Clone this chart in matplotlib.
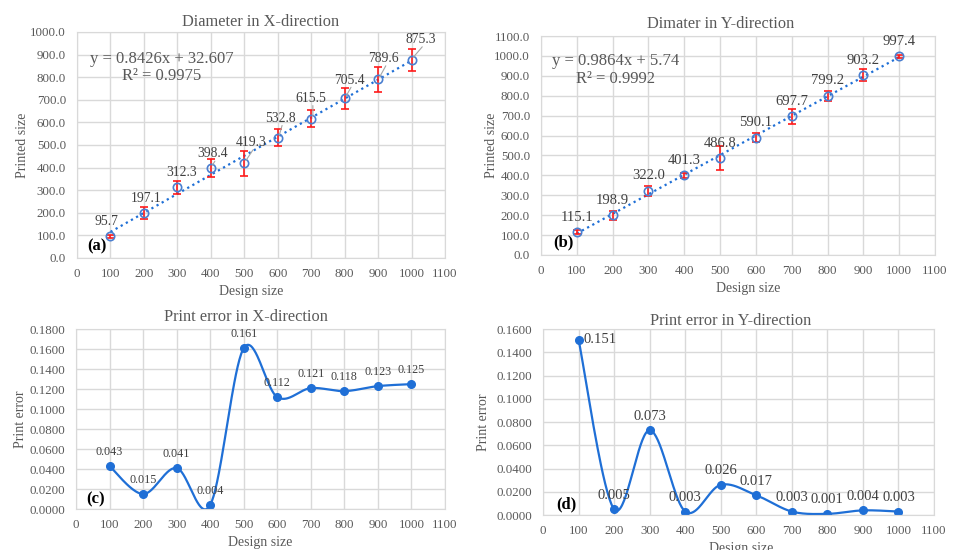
import numpy as np
import matplotlib
matplotlib.use("Agg")
import matplotlib.pyplot as plt

plt.rcParams['font.family'] = ['Liberation Serif', 'DejaVu Serif']

# --- datos ---
design = [100, 200, 300, 400, 500, 600, 700, 800, 900, 1000]

printed_x = [95.7, 197.1, 312.3, 398.4, 419.3, 532.8, 615.5, 705.4, 789.6, 875.3]
err_x = [7, 27, 29, 40, 55, 37, 37, 46, 54, 50]
printed_y = [115.1, 198.9, 322.0, 401.3, 486.8, 590.1, 697.7, 799.2, 903.2, 997.4]
err_y = [8, 23, 25, 13, 60, 23, 37, 23, 29, 10]

error_x = [0.043, 0.015, 0.041, 0.004, 0.161, 0.112, 0.121, 0.118, 0.123, 0.125]
error_y = [0.151, 0.005, 0.073, 0.003, 0.026, 0.017, 0.003, 0.001, 0.004, 0.003]

eq_x = "y = 0.8426x + 32.607\nR² = 0.9975"
eq_y = "y = 0.9864x + 5.74\nR² = 0.9992"

# posiciones de etiquetas en (a) (x, y en datos)
lab_a = [(87, 162), (208, 265), (312, 378), (406, 460), (520, 510),
         (607, 618), (699, 706), (813, 787), (917, 882), (1026, 966)]
leader_a = [False, False, False, True, True, True, True, True, True, True]

GRID = '#d9d9d9'
TXT = '#595959'
BLUE = '#4a7fd0'
LINE = '#1f6fd6'


def style(ax, xmax, ymax, ystep, fmt, xlab_x=0.5):
    ax.set_xlim(0, xmax)
    ax.set_ylim(0, ymax)
    ax.set_xticks(np.arange(0, xmax + 1, 100))
    ax.set_yticks(np.arange(0, ymax + ystep / 2, ystep))
    ax.set_yticklabels([fmt.format(v) for v in np.arange(0, ymax + ystep / 2, ystep)])
    ax.grid(True, color=GRID, lw=1.0)
    ax.set_axisbelow(True)
    for s in ax.spines.values():
        s.set_color(GRID)
    ax.tick_params(length=0, labelsize=9.3, colors=TXT)
    ax.tick_params(axis='x', pad=7.5)
    ax.tick_params(axis='y', pad=8)
    ax.set_xlabel('Design size', fontsize=10, color=TXT, labelpad=3.5, x=xlab_x)


def smooth(x, y, n=40):
    # curva suavizada tipo Excel (Catmull-Rom)
    x = np.asarray(x, float)
    y = np.asarray(y, float)
    px = np.concatenate([[x[0]], x, [x[-1]]])
    py = np.concatenate([[y[0]], y, [y[-1]]])
    xs, ys = [], []
    t = np.linspace(0, 1, n)
    for i in range(1, len(px) - 2):
        p0, p1, p2, p3 = [np.array([px[j], py[j]]) for j in (i - 1, i, i + 1, i + 2)]
        c1 = p1 + (p2 - p0) / 6
        c2 = p2 - (p3 - p1) / 6
        pts = ((1 - t)[:, None] ** 3 * p1 + 3 * ((1 - t) ** 2 * t)[:, None] * c1
               + 3 * ((1 - t) * t ** 2)[:, None] * c2 + (t ** 3)[:, None] * p2)
        xs.extend(pts[:, 0])
        ys.extend(pts[:, 1])
    return xs, ys


fig = plt.figure(figsize=(9.57, 5.5), dpi=100)
ax_a = fig.add_axes([0.0805, 0.531, 0.3845, 0.411])
ax_b = fig.add_axes([0.5653, 0.5364, 0.4117, 0.398])
ax_c = fig.add_axes([0.0794, 0.0745, 0.3856, 0.327])
ax_d = fig.add_axes([0.5674, 0.0636, 0.4086, 0.338])

# --- (a) ---
style(ax_a, 1100, 1000, 100, '{:.1f}', xlab_x=0.473)
a, b = np.polyfit(design, printed_x, 1)
xx = np.array([design[0], design[-1]])
ax_a.plot(xx, a * xx + b, ls=':', color=LINE, lw=1.6)
ax_a.errorbar(design, printed_x, yerr=err_x, fmt='none', ecolor='#ff1a1a',
              elinewidth=1.2, capsize=3, capthick=1.2)
ax_a.plot(design, printed_x, 'o', mfc='none', mec=BLUE, ms=6, mew=1.2)
for xv, yv, (lx, ly), ld in zip(design, printed_x, lab_a, leader_a):
    ax_a.text(lx, ly, f'{yv:.1f}', ha='center', va='center', fontsize=9.8, color='#404040')
    if ld:
        ax_a.annotate('', xy=(xv + 5, yv + 12), xytext=(lx + 6, ly - 32),
                      arrowprops=dict(arrowstyle='-', color='#a6a6a6', lw=0.8,
                                      shrinkA=0, shrinkB=0))
ax_a.text(253, 843, eq_x, ha='center', va='center', fontsize=12, color=TXT,
          linespacing=1.1)
ax_a.text(30, 51, '(a)', fontsize=12, fontweight='bold', va='center')
ax_a.set_title('Diameter in X-direction', fontsize=11.8, color=TXT, pad=4)
ax_a.set_ylabel('Printed size', fontsize=10, color=TXT)
ax_a.yaxis.set_label_coords(-0.13, 0.5)

# --- (b) ---
style(ax_b, 1100, 1100, 100, '{:.1f}', xlab_x=0.525)
a, b = np.polyfit(design, printed_y, 1)
ax_b.plot(xx, a * xx + b, ls=':', color=LINE, lw=1.6)
ax_b.errorbar(design, printed_y, yerr=err_y, fmt='none', ecolor='#ff1a1a',
              elinewidth=1.2, capsize=3, capthick=1.2)
ax_b.plot(design, printed_y, 'o', mfc='none', mec=BLUE, ms=6, mew=1.2)
for xv, yv in zip(design, printed_y):
    ax_b.annotate(f'{yv:.1f}', (xv, yv), xytext=(0, 15), textcoords='offset pixels',
                  ha='center', va='center', fontsize=10.5, color='#404040')
ax_b.text(207, 930, eq_y, ha='center', va='center', fontsize=12, color=TXT,
          linespacing=1.1)
ax_b.text(33, 62, '(b)', fontsize=12, fontweight='bold', va='center')
ax_b.set_title('Dimater in Y-direction', fontsize=11.8, color=TXT, x=0.455, y=1.0, pad=6)
ax_b.set_ylabel('Printed size', fontsize=10, color=TXT)
ax_b.yaxis.set_label_coords(-0.11, 0.5)

# --- (c) ---
style(ax_c, 1100, 0.18, 0.02, '{:.4f}')
sx, sy = smooth(design, error_x)
ax_c.plot(sx, sy, color=LINE, lw=1.6)
ax_c.plot(design, error_x, 'o', color=LINE, ms=5.5)
for xv, yv in zip(design, error_x):
    ax_c.annotate(f'{yv:.3f}', (xv, yv), xytext=(0, 14), textcoords='offset pixels',
                  ha='center', va='center', fontsize=8.7, color='#404040')
ax_c.text(32, 0.0093, '(c)', fontsize=12, fontweight='bold', va='center')
ax_c.set_title('Print error in X-direction', fontsize=11.8, color=TXT, x=0.46, pad=6)
ax_c.set_ylabel('Print error', fontsize=10, color=TXT)
ax_c.yaxis.set_label_coords(-0.134, 0.5)

# --- (d) ---
style(ax_d, 1100, 0.16, 0.02, '{:.4f}', xlab_x=0.508)
sx, sy = smooth(design, error_y)
ax_d.plot(sx, sy, color=LINE, lw=1.6)
ax_d.plot(design, error_y, 'o', color=LINE, ms=5.5)
for i, (xv, yv) in enumerate(zip(design, error_y)):
    if i == 0:
        ax_d.annotate(f'{yv:.3f}', (xv, yv), xytext=(5, 0), textcoords='offset pixels',
                      ha='left', va='center', fontsize=10.5, color='#404040')
    else:
        ax_d.annotate(f'{yv:.3f}', (xv, yv), xytext=(0, 14), textcoords='offset pixels',
                      ha='center', va='center', fontsize=10.5, color='#404040')
ax_d.text(37, 0.0095, '(d)', fontsize=12, fontweight='bold', va='center')
ax_d.set_title('Print error in Y-direction', fontsize=11.8, color=TXT, x=0.48, pad=3)
ax_d.set_ylabel('Print error', fontsize=10, color=TXT)
ax_d.yaxis.set_label_coords(-0.135, 0.5)

fig.savefig('out.png', dpi=100)
